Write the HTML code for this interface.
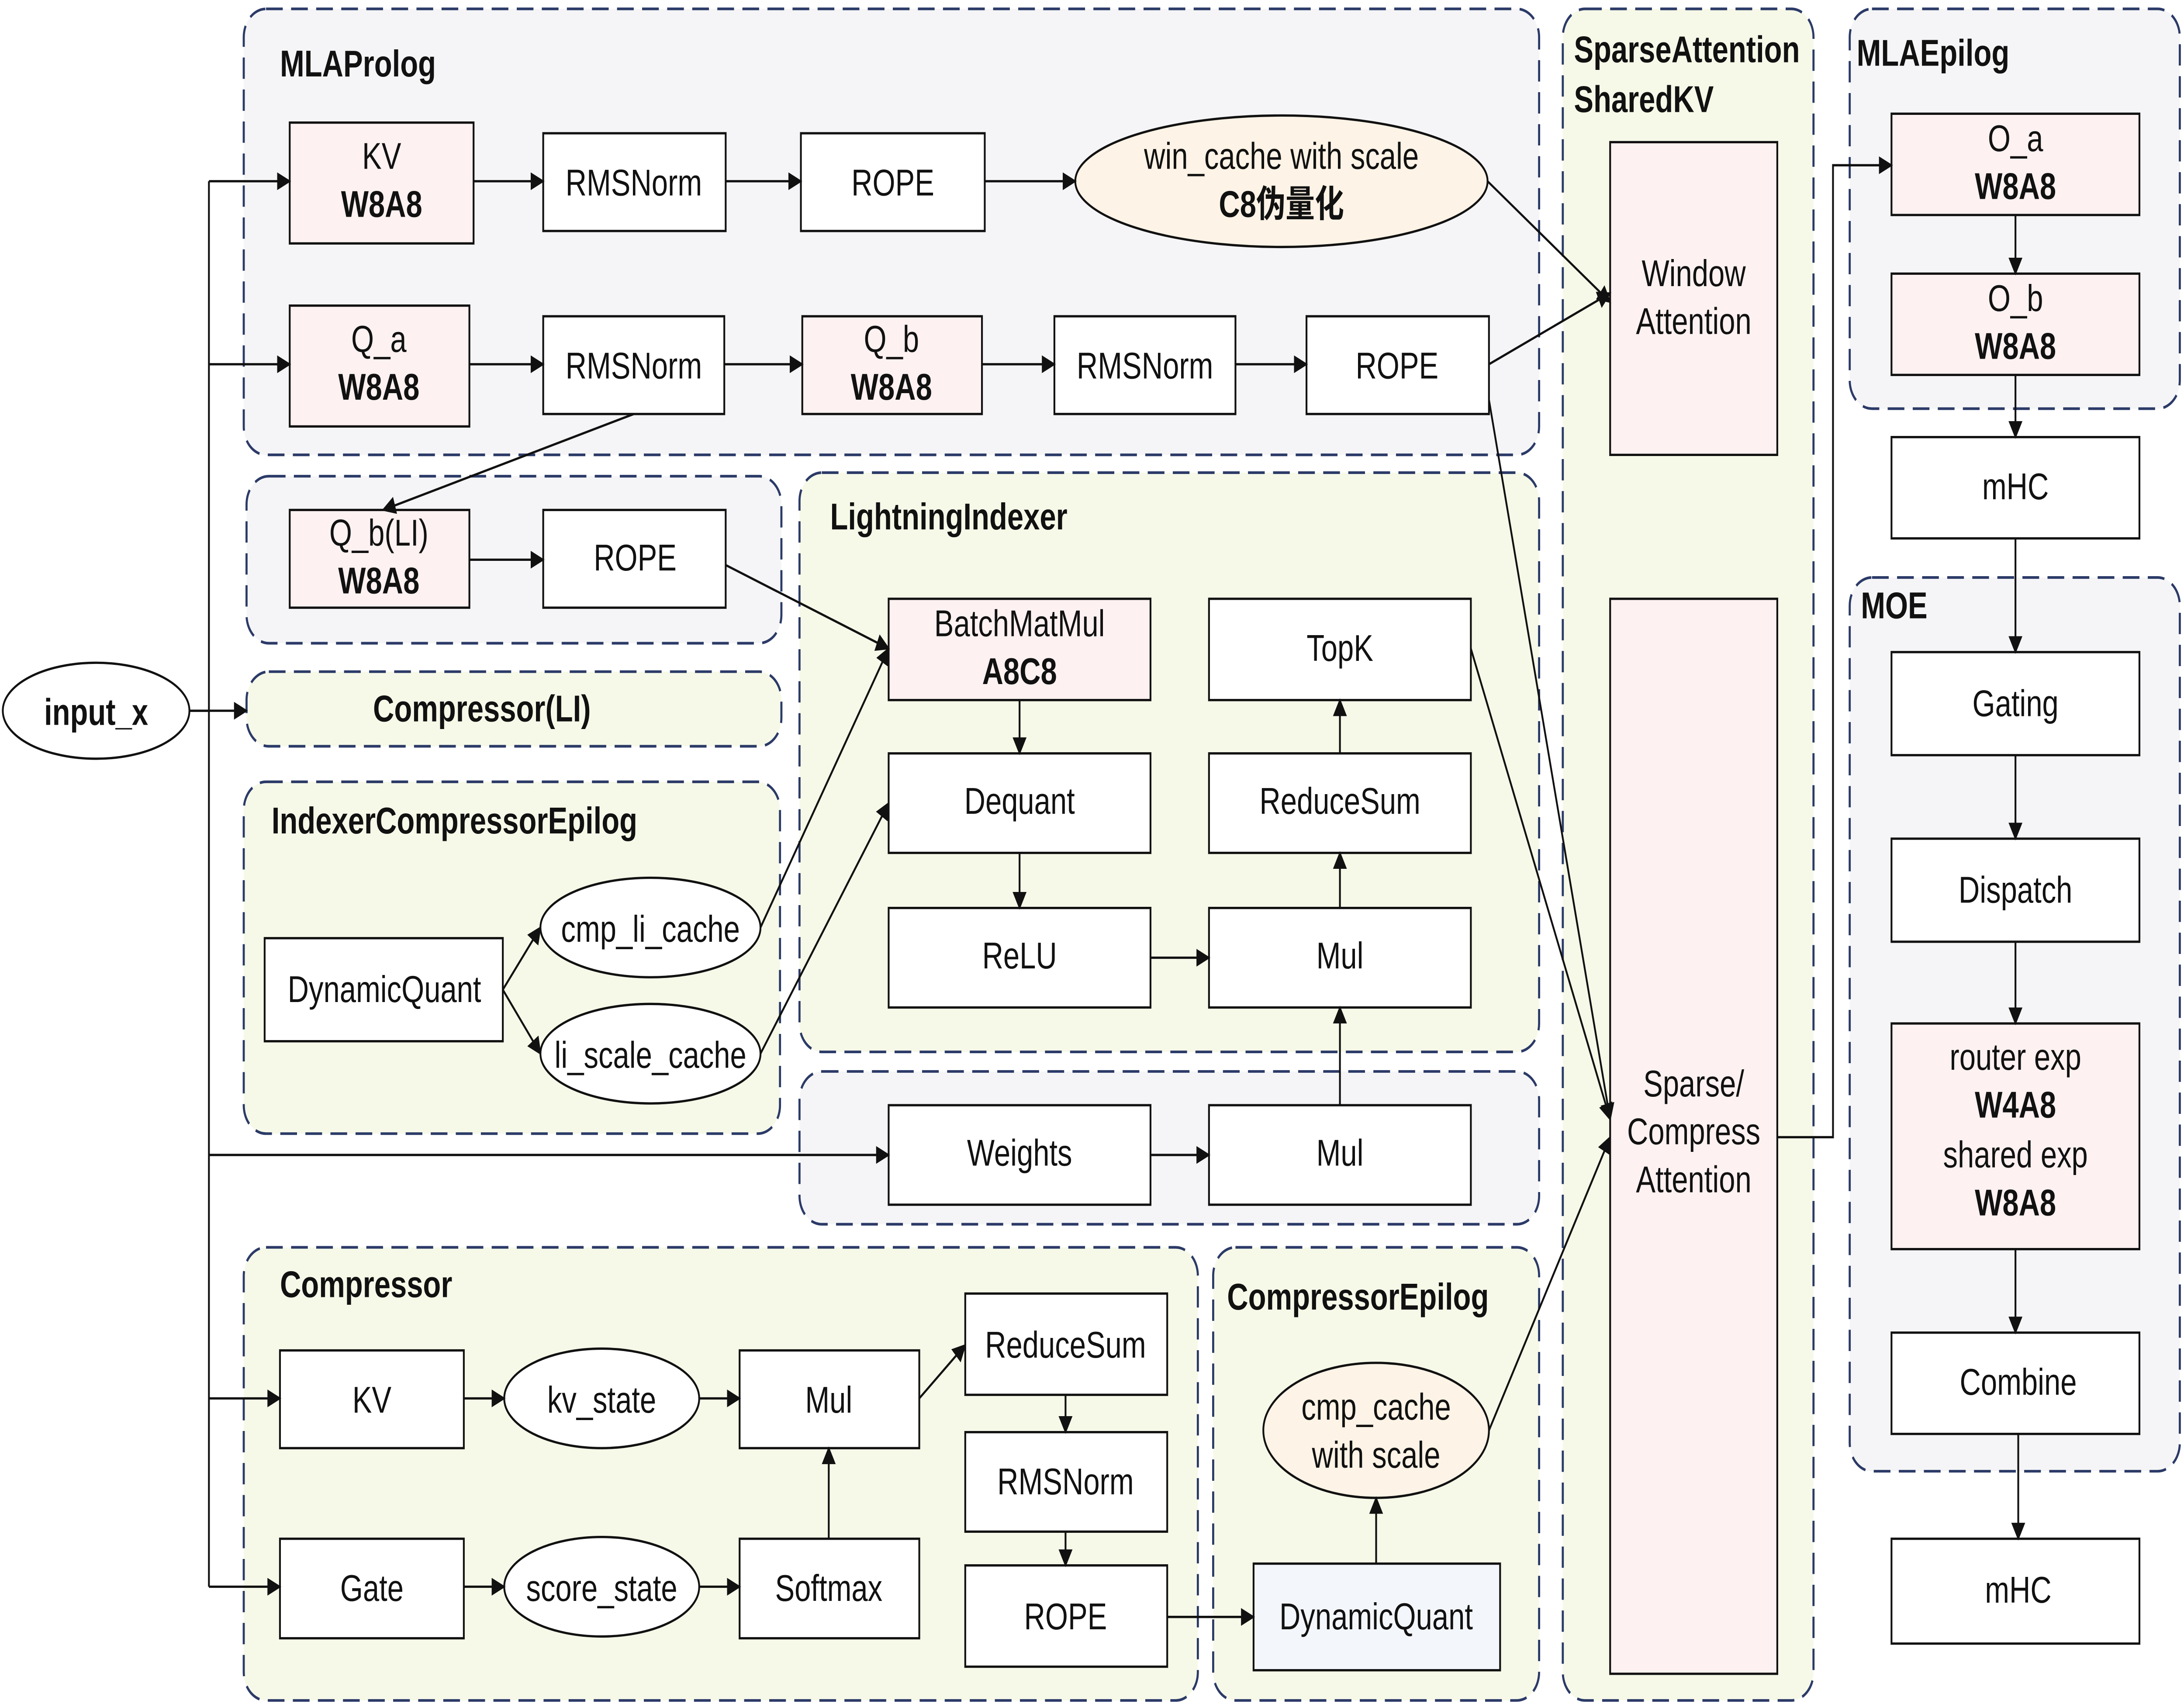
<!DOCTYPE html>
<html><head><meta charset="utf-8"><style>
html,body{margin:0;padding:0;background:#fff;width:6378px;height:3901px;overflow:hidden}
svg{display:block;position:absolute;left:0;top:0;width:100vw;height:100vh}
text{font-family:"Liberation Sans","Noto Sans CJK SC",sans-serif;font-size:21px;fill:#111}
.b{font-weight:bold}
.g{font-weight:bold;font-size:21px}
</style></head><body>
<svg viewBox="0 0 1568 959" preserveAspectRatio="none" xmlns="http://www.w3.org/2000/svg">
<defs><marker id="a" markerWidth="10" markerHeight="10" refX="9" refY="5" orient="auto" markerUnits="userSpaceOnUse"><path d="M0,0 L10,5 L0,10 z" fill="#111"/></marker></defs>
<rect width="1568" height="959" fill="#fff"/>
<g stroke="#2b3a67" stroke-width="1.5" stroke-dasharray="12,6">
<rect x="175" y="5" width="930" height="251" rx="16" fill="#f5f5f7"/>
<rect x="1122" y="5" width="180" height="952" rx="16" fill="#f6f9e8"/>
<rect x="1328" y="5" width="237" height="225" rx="16" fill="#f5f5f7"/>
<rect x="1328" y="325" width="237" height="503" rx="16" fill="#f5f5f7"/>
<rect x="177" y="268" width="384" height="94" rx="16" fill="#f5f5f7"/>
<rect x="177" y="378" width="384" height="42" rx="16" fill="#f6f9e8"/>
<rect x="175" y="440" width="385" height="198" rx="16" fill="#f6f9e8"/>
<rect x="574" y="266" width="531" height="326" rx="16" fill="#f6f9e8"/>
<rect x="574" y="603" width="531" height="86" rx="16" fill="#f5f5f7"/>
<rect x="175" y="702" width="685" height="255" rx="16" fill="#f6f9e8"/>
<rect x="871" y="702" width="234" height="255" rx="16" fill="#f6f9e8"/>
</g>
<text x="201" y="43" class="g">MLAProlog</text>
<text x="1130" y="35" class="g">SparseAttention</text>
<text x="1130" y="63" class="g">SharedKV</text>
<text x="1333" y="37" class="g">MLAEpilog</text>
<text x="1336" y="348" class="g">MOE</text>
<text x="346" y="406" class="g" text-anchor="middle">Compressor(LI)</text>
<text x="195" y="469" class="g">IndexerCompressorEpilog</text>
<text x="596" y="298" class="g">LightningIndexer</text>
<text x="201" y="730" class="g">Compressor</text>
<text x="881" y="737" class="g">CompressorEpilog</text>
<g stroke="#111" stroke-width="1.3">
<rect x="208" y="69" width="132" height="68" fill="#fdf1f1"/>
<rect x="390" y="75" width="131" height="55" fill="#fff"/>
<rect x="575" y="75" width="132" height="55" fill="#fff"/>
<ellipse cx="920" cy="102" rx="148" ry="37" fill="#fdf3e6"/>
<rect x="208" y="172" width="129" height="68" fill="#fdf1f1"/>
<rect x="390" y="178" width="130" height="55" fill="#fff"/>
<rect x="576" y="178" width="129" height="55" fill="#fdf1f1"/>
<rect x="757" y="178" width="130" height="55" fill="#fff"/>
<rect x="938" y="178" width="131" height="55" fill="#fff"/>
<rect x="1156" y="80" width="120" height="176" fill="#fdf1f1"/>
<rect x="1156" y="337" width="120" height="605" fill="#fdf1f1"/>
<rect x="1358" y="64" width="178" height="57" fill="#fdf1f1"/>
<rect x="1358" y="154" width="178" height="57" fill="#fdf1f1"/>
<rect x="1358" y="246" width="178" height="57" fill="#fff"/>
<rect x="1358" y="367" width="178" height="58" fill="#fff"/>
<rect x="1358" y="472" width="178" height="58" fill="#fff"/>
<rect x="1358" y="576" width="178" height="127" fill="#fdf1f1"/>
<rect x="1358" y="750" width="178" height="57" fill="#fff"/>
<rect x="1358" y="866" width="178" height="59" fill="#fff"/>
<ellipse cx="69" cy="400" rx="67" ry="27" fill="#fff"/>
<rect x="208" y="287" width="129" height="55" fill="#fdf1f1"/>
<rect x="390" y="287" width="131" height="55" fill="#fff"/>
<rect x="190" y="528" width="171" height="58" fill="#fff"/>
<ellipse cx="467" cy="522" rx="79" ry="28" fill="#fff"/>
<ellipse cx="467" cy="593" rx="79" ry="28" fill="#fff"/>
<rect x="638" y="337" width="188" height="57" fill="#fdf1f1"/>
<rect x="638" y="424" width="188" height="56" fill="#fff"/>
<rect x="638" y="511" width="188" height="56" fill="#fff"/>
<rect x="868" y="337" width="188" height="57" fill="#fff"/>
<rect x="868" y="424" width="188" height="56" fill="#fff"/>
<rect x="868" y="511" width="188" height="56" fill="#fff"/>
<rect x="638" y="622" width="188" height="56" fill="#fff"/>
<rect x="868" y="622" width="188" height="56" fill="#fff"/>
<rect x="201" y="760" width="132" height="55" fill="#fff"/>
<ellipse cx="432" cy="787" rx="70" ry="28" fill="#fff"/>
<rect x="531" y="760" width="129" height="55" fill="#fff"/>
<rect x="201" y="866" width="132" height="56" fill="#fff"/>
<ellipse cx="432" cy="893" rx="70" ry="28" fill="#fff"/>
<rect x="531" y="866" width="129" height="56" fill="#fff"/>
<rect x="693" y="728" width="145" height="57" fill="#fff"/>
<rect x="693" y="806" width="145" height="56" fill="#fff"/>
<rect x="693" y="881" width="145" height="57" fill="#fff"/>
<ellipse cx="988" cy="805" rx="81" ry="38" fill="#fdf3e6"/>
<rect x="900" y="880" width="177" height="60" fill="#f3f6fb"/>
</g>
<g text-anchor="middle">
<text x="274" y="95">KV</text><text x="274" y="122" class="b">W8A8</text>
<text x="455" y="110">RMSNorm</text>
<text x="641" y="110">ROPE</text>
<text x="920" y="95">win_cache with scale</text><text x="920" y="122" class="b">C8伪量化</text>
<text x="272" y="198">Q_a</text><text x="272" y="225" class="b">W8A8</text>
<text x="455" y="213">RMSNorm</text>
<text x="640" y="198">Q_b</text><text x="640" y="225" class="b">W8A8</text>
<text x="822" y="213">RMSNorm</text>
<text x="1003" y="213">ROPE</text>
<text x="1216" y="161">Window</text><text x="1216" y="188">Attention</text>
<text x="1216" y="617">Sparse/</text><text x="1216" y="644">Compress</text><text x="1216" y="671">Attention</text>
<text x="1447" y="85">O_a</text><text x="1447" y="112" class="b">W8A8</text>
<text x="1447" y="175">O_b</text><text x="1447" y="202" class="b">W8A8</text>
<text x="1447" y="281">mHC</text>
<text x="1447" y="403">Gating</text>
<text x="1447" y="508">Dispatch</text>
<text x="1447" y="602">router exp</text><text x="1447" y="629" class="b">W4A8</text>
<text x="1447" y="657">shared exp</text><text x="1447" y="684" class="b">W8A8</text>
<text x="1449" y="785">Combine</text>
<text x="1449" y="902">mHC</text>
<text x="69" y="408" class="b">input_x</text>
<text x="272" y="307">Q_b(LI)</text><text x="272" y="334" class="b">W8A8</text>
<text x="456" y="321">ROPE</text>
<text x="276" y="564">DynamicQuant</text>
<text x="467" y="530">cmp_li_cache</text>
<text x="467" y="601">li_scale_cache</text>
<text x="732" y="358">BatchMatMul</text><text x="732" y="385" class="b">A8C8</text>
<text x="732" y="458">Dequant</text>
<text x="732" y="545">ReLU</text>
<text x="962" y="372">TopK</text>
<text x="962" y="458">ReduceSum</text>
<text x="962" y="545">Mul</text>
<text x="732" y="656">Weights</text>
<text x="962" y="656">Mul</text>
<text x="267" y="795">KV</text>
<text x="432" y="795">kv_state</text>
<text x="595" y="795">Mul</text>
<text x="267" y="901">Gate</text>
<text x="432" y="901">score_state</text>
<text x="595" y="901">Softmax</text>
<text x="765" y="764">ReduceSum</text>
<text x="765" y="841">RMSNorm</text>
<text x="765" y="917">ROPE</text>
<text x="988" y="799">cmp_cache</text><text x="988" y="826">with scale</text>
<text x="988" y="917">DynamicQuant</text>
</g>
<g stroke="#111" stroke-width="1.3" fill="none" marker-end="url(#a)">
<path d="M136,400 H177"/>
<path d="M150,102 H208"/>
<path d="M150,205 H208"/>
<path d="M150,650 H638"/>
<path d="M150,787 H201"/>
<path d="M150,893 H201"/>
<path d="M340,102 H390"/><path d="M521,102 H575"/><path d="M707,102 H772"/>
<path d="M337,205 H390"/><path d="M520,205 H576"/><path d="M705,205 H757"/><path d="M887,205 H938"/>
<path d="M455,233 L275,287"/>
<path d="M337,315 H390"/>
<path d="M521,318 L638,365"/>
<path d="M546,522 L638,365"/>
<path d="M546,593 L638,452"/>
<path d="M361,557 L388,522"/><path d="M361,557 L388,593"/>
<path d="M732,394 V424"/><path d="M732,480 V511"/>
<path d="M826,539 H868"/>
<path d="M962,511 V480"/><path d="M962,424 V394"/>
<path d="M962,622 V567"/>
<path d="M826,650 H868"/>
<path d="M1068,102 L1156,170"/>
<path d="M1069,205 L1156,165"/>
<path d="M1069,225 L1156,630"/>
<path d="M1056,365 L1156,630"/>
<path d="M1069,805 L1156,640"/>
<path d="M1276,640 H1316 V93 H1358"/>
<path d="M1447,121 V154"/><path d="M1447,211 V246"/>
<path d="M1447,303 V367"/><path d="M1447,425 V472"/><path d="M1447,530 V576"/>
<path d="M1447,703 V750"/><path d="M1449,807 V866"/>
<path d="M333,787 H362"/><path d="M502,787 H531"/>
<path d="M333,893 H362"/><path d="M502,893 H531"/>
<path d="M595,866 V815"/>
<path d="M660,787 L693,757"/>
<path d="M765,785 V806"/><path d="M765,862 V881"/>
<path d="M838,910 H900"/>
<path d="M988,880 V843"/>
</g>
<path d="M150,102 V893 M136,400 H150" stroke="#111" stroke-width="1.3" fill="none"/>
</svg>
</body></html>
